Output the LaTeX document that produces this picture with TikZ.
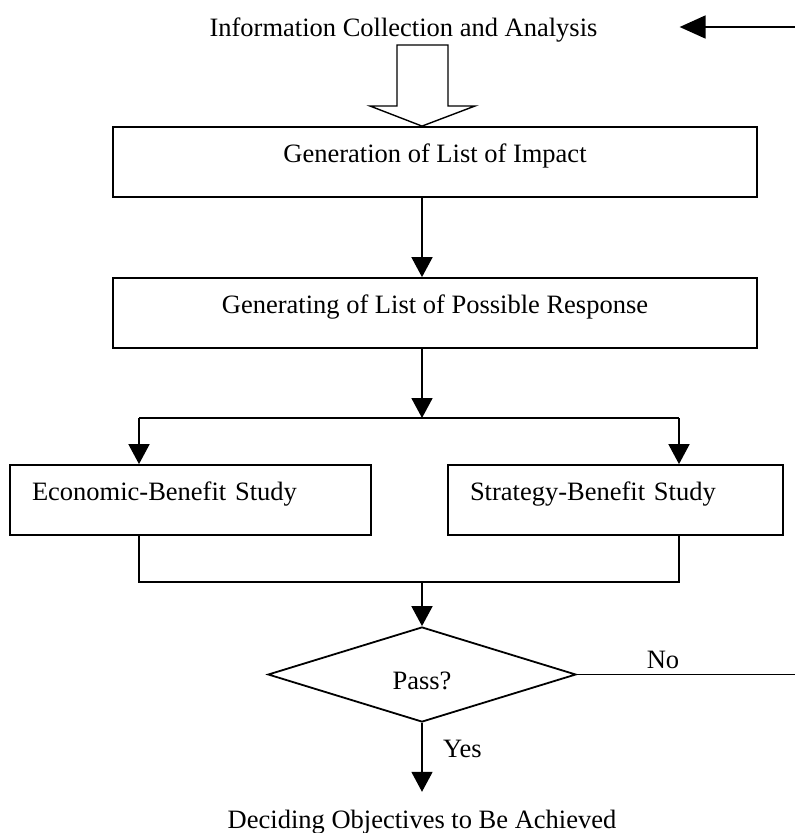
\documentclass[tikz,border=0pt]{standalone}
\usepackage{fontspec}
\setmainfont{Liberation Serif}
\usetikzlibrary{arrows.meta,shapes.geometric}

\begin{document}
\begin{tikzpicture}[x=1pt,y=-1pt,
  every node/.style={font=\fontsize{26.5}{30}\selectfont},
  line/.style={line width=1.8pt},
  arr/.style={line, -{Triangle[length=20pt,width=21pt]}},
  bigarr/.style={line, -{Triangle[length=26pt,width=23pt]}},
  procbox/.style={draw, line width=1.8pt, minimum height=70pt, inner sep=0pt,
    text height=18pt, text depth=17pt},
  widebox/.style={procbox, minimum width=644pt},
  leftbox/.style={procbox, align=left, inner xsep=22pt},
  decision/.style={draw, diamond, line width=1.8pt, minimum width=308pt,
    minimum height=95pt, inner sep=0pt, text height=30pt, text depth=1pt},
  plain/.style={inner sep=0pt, text height=18pt, text depth=0pt, anchor=base}
]
\useasboundingbox (0,0) rectangle (795,833);

% main flow column
\coordinate (cx) at (422,0);

% source and incoming feedback
\node[plain] (title) at (403.5,36) {Information Collection and Analysis};
\coordinate (fb) at (795,27);
\draw[bigarr, shorten >=82pt] (fb) -- (title.east);

% process boxes
\node[widebox] (impact) at (435,162) {Generation of List of Impact};
\node[widebox] (response) at (435,313) {Generating of List of Possible Response};
\node[leftbox, text width=317pt] (econ) at (190.5,500) {Economic-Benefit Study};
\node[leftbox, text width=291pt] (strat) at (615.5,500) {Strategy-Benefit Study};

% hollow block arrow into the first box
\draw[line width=1.4pt, line join=miter]
  (397,45) -- (448,45) -- (448,106) -- (475,106) -- (impact.north -| cx)
  -- (370,106) -- (397,106) -- cycle;

\draw[arr] (impact.south -| cx) -- (response.north -| cx);

% split into the two studies
\coordinate (split) at (422,418);
\coordinate (sl) at (139,418);
\coordinate (sr) at (679,418);
\draw[arr] (response.south -| cx) -- (split);
\draw[line] (sl) -- (sr);
\draw[arr] (sl) -- (econ.north -| sl);
\draw[arr] (sr) -- (strat.north -| sr);

% merge into the decision
\coordinate (ml) at (139,582);
\coordinate (mr) at (679,582);
\node[decision] (pass) at (422,674.5) {Pass?};
\draw[line] (econ.south -| ml) -- (ml) -- (mr) -- (strat.south -| mr);
\draw[arr] (ml -| cx) -- (pass.north);

% outcomes
\coordinate (noend) at (795,674.5);
\draw[line] (pass.east) -- (noend);
\node[plain] (nolbl) at (663,668) {No};
\node[plain] (yeslbl) at (462.5,757) {Yes};
\node[plain, inner ysep=18pt, inner xsep=0pt] (final) at (422,828) {Deciding Objectives to Be Achieved};
\draw[arr] (pass.south) -- (final.north);
\end{tikzpicture}
\end{document}
